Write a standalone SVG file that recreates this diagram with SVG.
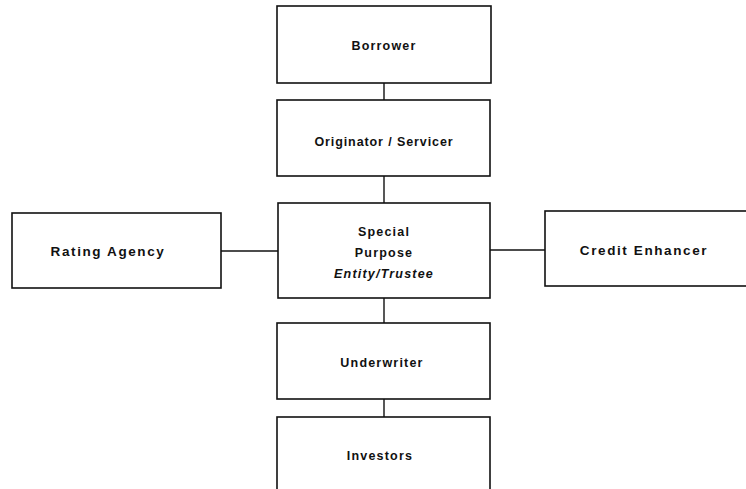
<svg xmlns="http://www.w3.org/2000/svg" width="746" height="489" viewBox="0 0 746 489">
<style>
.box{fill:#fff;stroke:#111;stroke-width:1.6}
.lbl{font-family:"Liberation Sans",Arial,sans-serif;font-weight:bold;font-size:12.5px;letter-spacing:1.2px;fill:#111;text-anchor:middle}
.wide{font-size:13.5px;letter-spacing:1.6px}
.con{stroke:#111;stroke-width:1.4;fill:none}
</style>
<rect width="746" height="489" fill="#fff"/>
<g id="connectors">
<line class="con" x1="384" y1="83" x2="384" y2="100"/>
<line class="con" x1="384" y1="176" x2="384" y2="203"/>
<line class="con" x1="221" y1="251" x2="278" y2="251"/>
<line class="con" x1="490" y1="250" x2="545" y2="250"/>
<line class="con" x1="384" y1="298" x2="384" y2="323"/>
<line class="con" x1="384" y1="399" x2="384" y2="417"/>
</g>
<g id="borrower"><rect class="box" x="277" y="6" width="214" height="77"/><text class="lbl" x="384" y="50">Borrower</text></g>
<g id="originator"><rect class="box" x="277" y="100" width="213" height="76"/><text class="lbl" x="384" y="146" style="letter-spacing:0.9px">Originator / Servicer</text></g>
<g id="spe"><rect class="box" x="278" y="203" width="212" height="95"/>
<text class="lbl" x="384" y="236">Special</text><text class="lbl" x="384" y="257">Purpose</text><text class="lbl" x="384" y="278" font-style="italic">Entity/Trustee</text></g>
<g id="rating"><rect class="box" x="12" y="213" width="209" height="75"/><text class="lbl wide" x="108" y="256">Rating Agency</text></g>
<g id="credit"><rect class="box" x="545" y="211" width="210" height="75"/><text class="lbl wide" x="644" y="255">Credit Enhancer</text></g>
<g id="underwriter"><rect class="box" x="277" y="323" width="213" height="76"/><text class="lbl" x="382" y="367">Underwriter</text></g>
<g id="investors"><rect class="box" x="277" y="417" width="213" height="90"/><text class="lbl" x="380" y="460">Investors</text></g>
</svg>
